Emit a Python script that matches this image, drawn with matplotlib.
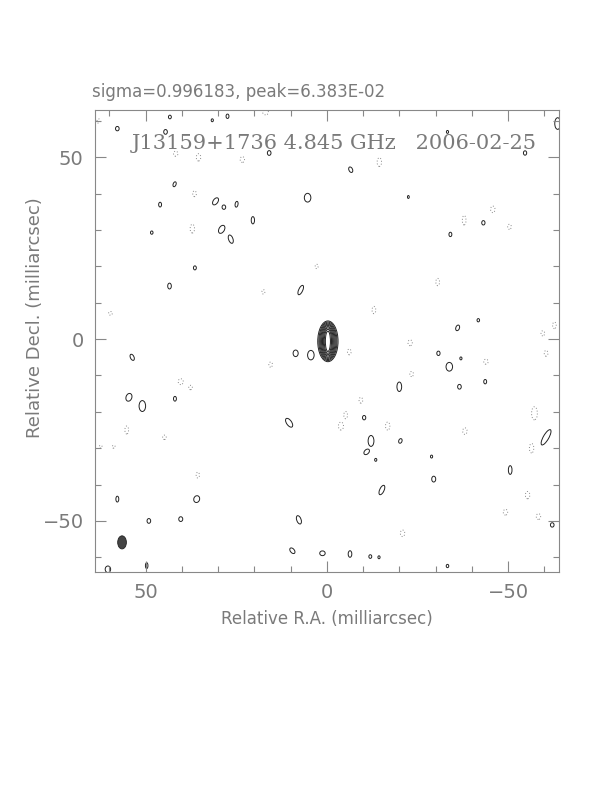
import matplotlib
matplotlib.use("Agg")
import matplotlib.pyplot as plt
from matplotlib.patches import Ellipse
from matplotlib.ticker import MultipleLocator

# header text
sigma_txt = "sigma=0.996183, peak=6.383E-02"
map_label = "J13159+1736 4.845 GHz   2006-02-25"

# main component: nested contours (ra, dec centre; full widths in mas)
core_ra, core_dec = -0.3, -0.6
core_w = [5.6, 5.0, 4.5, 4.0, 3.5, 3.0, 2.5, 2.0, 1.4]
core_h = [11.2, 10.6, 10.0, 9.4, 8.8, 8.1, 7.4, 6.6, 5.6]

# restoring beam
beam_ra, beam_dec, beam_w, beam_h = 56.5, -55.9, 2.4, 3.6

# positive noise contours: ra, dec, width, height, tilt
pos_ra = [57.8, 43.3, 31.6, 27.4, 44.5, 15.9, 42.0, 46.0, 30.7, 28.4, 24.9, 5.3,
          20.4, 29.0, 26.5, 48.3, 36.4, 43.4, 7.2, -6.6, -22.5, -43.2, -34.1,
          -54.7, -63.7, -33.3, 8.6, 4.4, 53.7, 54.6, 50.9, 41.9, 10.4, 57.8,
          35.9, 7.7, 49.1, 40.3, 9.5, 1.2, 49.7, 60.4, -36.1, -41.8, -30.8,
          -37.0, -33.8, -36.6, -43.7, -20.0, -10.3, -12.2, -11.0, -13.5, -20.3,
          -28.9, -60.5, -50.6, -29.5, -15.2, -62.2, -6.4, -12.0, -14.4, -33.3]
pos_dec = [57.9, 61.1, 60.2, 61.3, 57.0, 51.2, 42.6, 37.0, 37.9, 36.3, 37.1, 38.9,
           32.7, 30.2, 27.5, 29.3, 19.6, 14.6, 13.5, 46.6, 39.1, 32.0, 28.8,
           51.2, 59.3, 57.0, -3.9, -4.4, -5.0, -16.0, -18.4, -16.4, -23.0, -44.0,
           -44.0, -49.7, -50.0, -49.5, -58.2, -58.9, -62.3, -63.3, 3.1, 5.2, -3.9,
           -5.3, -7.6, -13.1, -11.7, -13.1, -21.6, -28.0, -31.0, -33.2, -28.0,
           -32.3, -27.0, -36.0, -38.5, -41.5, -51.1, -59.1, -59.8, -60.0, -62.4]
pos_w = [1.0, 0.8, 0.6, 0.8, 1.0, 1.0, 0.8, 0.8, 1.3, 1.0, 0.8, 1.8,
         0.9, 1.5, 1.2, 0.7, 0.8, 1.0, 1.1, 1.0, 0.5, 0.9, 0.8,
         0.9, 1.6, 0.6, 1.4, 1.8, 1.0, 1.6, 1.8, 0.8, 1.4, 0.8,
         1.6, 1.2, 1.0, 1.1, 1.1, 1.5, 0.7, 1.5, 1.0, 0.7, 0.9,
         0.6, 1.8, 1.0, 0.8, 1.3, 0.9, 1.6, 1.2, 0.6, 0.9,
         0.6, 1.5, 1.0, 1.1, 1.2, 1.0, 1.0, 0.8, 0.6, 0.7]
pos_h = [1.2, 1.0, 0.8, 1.2, 1.3, 1.3, 1.4, 1.3, 2.2, 1.2, 1.6, 2.4,
         2.0, 2.4, 2.4, 0.9, 1.1, 1.6, 2.8, 1.6, 0.8, 1.2, 1.2,
         1.2, 3.2, 0.8, 1.8, 2.6, 1.8, 2.2, 3.0, 1.3, 2.8, 1.6,
         1.9, 2.4, 1.3, 1.3, 1.8, 1.3, 1.6, 1.8, 1.6, 0.9, 1.2,
         0.8, 2.4, 1.3, 1.2, 2.6, 1.2, 3.0, 1.8, 0.8, 1.3,
         0.8, 4.8, 2.4, 1.6, 2.8, 1.2, 1.8, 1.0, 0.8, 0.9]
pos_tilt = [0, 0, 0, 0, 0, 0, 20, 0, 35, 0, 10, 0,
            0, 30, -20, 0, 0, 0, 25, -25, 0, 0, 0,
            0, 0, 0, 0, 0, -25, 20, 0, 0, -35, 0,
            20, -20, 0, 0, -40, 0, 0, 0, 20, 0, 0,
            0, 0, 0, 0, 0, 0, 0, 45, 0, 20,
            0, 30, 0, 0, 25, 0, 0, 0, 0, 0]

# negative noise contours (dotted): ra, dec, width, height
neg_ra = [36.5, 37.1, 23.3, 35.4, 41.7, 16.9, 2.8, 17.5, -14.5, -45.8, -37.9,
          -50.4, -30.6, 15.5, 40.3, 37.6, 55.2, 62.4, 58.8, 59.7, 35.6, -13.0,
          -62.8, -59.6, -6.2, -23.0, -43.9, -60.5, -23.4, -9.4, -5.2, -3.9,
          -16.8, -38.1, -57.3, -56.5, -55.4, -49.3, -58.4, -20.9, 63.0, 44.8]
neg_dec = [40.0, 30.4, 49.4, 50.0, 51.0, 62.4, 20.0, 13.0, 48.7, 35.7, 32.7,
           30.9, 15.7, -7.0, -11.7, -13.3, -25.0, -29.6, -29.6, 7.1, -37.4, 8.0,
           3.8, 1.6, -3.5, -1.0, -6.2, -3.9, -9.6, -16.8, -20.9, -23.9,
           -23.9, -25.3, -20.4, -30.0, -42.9, -47.6, -48.8, -53.4, 60.0, -27.0]
neg_w = [1.0, 1.2, 1.2, 1.2, 1.2, 1.6, 0.8, 0.8, 1.2, 1.2, 1.0,
         1.0, 1.0, 1.0, 1.4, 1.0, 1.0, 0.8, 0.8, 1.0, 0.9, 1.0,
         1.0, 1.0, 1.0, 1.2, 1.2, 1.0, 1.0, 1.0, 1.0, 1.4,
         1.2, 1.2, 1.6, 1.2, 1.2, 1.2, 1.2, 1.2, 0.8, 1.0]
neg_h = [1.6, 2.4, 1.6, 2.0, 1.4, 1.4, 1.2, 1.2, 2.4, 1.8, 2.6,
         1.4, 2.0, 1.4, 1.6, 1.2, 2.2, 0.8, 0.8, 1.0, 1.6, 2.0,
         1.8, 1.4, 1.6, 1.6, 1.4, 1.6, 1.4, 1.6, 2.0, 2.2,
         2.2, 1.8, 3.6, 2.6, 2.0, 1.6, 1.6, 1.8, 1.2, 1.2]

fig = plt.figure(figsize=(6.12, 7.92), dpi=100)
ax = fig.add_axes([0.155, 0.278, 0.758, 0.583])

for w, h in zip(core_w, core_h):
    ax.add_patch(Ellipse((core_ra, core_dec), w, h, fill=False,
                         ec="#222222", lw=0.7))

for x, y, w, h, t in zip(pos_ra, pos_dec, pos_w, pos_h, pos_tilt):
    ax.add_patch(Ellipse((x, y), w, h, angle=t, fill=False, ec="#222222", lw=0.7))

for x, y, w, h in zip(neg_ra, neg_dec, neg_w, neg_h):
    ax.add_patch(Ellipse((x, y), w, h, fill=False, ec="#888888", lw=0.7,
                         ls=(0, (1, 2))))

ax.add_patch(Ellipse((beam_ra, beam_dec), beam_w, beam_h, fc="#444444",
                     ec="#222222", lw=0.6))

ax.set_xlim(64, -64)
ax.set_ylim(-64, 63)

grey = "#7a7a7a"
for s in ax.spines.values():
    s.set_color("#888888")
    s.set_linewidth(0.8)
ax.xaxis.set_major_locator(MultipleLocator(50))
ax.xaxis.set_minor_locator(MultipleLocator(10))
ax.yaxis.set_major_locator(MultipleLocator(50))
ax.yaxis.set_minor_locator(MultipleLocator(10))
ax.tick_params(which="both", direction="in", top=True, right=True,
               color="#888888", width=0.8, labelcolor=grey, labelsize=14)
ax.tick_params(which="major", length=8, pad=8)
ax.tick_params(which="minor", length=4)
fmt = plt.FuncFormatter(lambda v, p: f"{v:.0f}".replace("-", "\u2212"))
ax.xaxis.set_major_formatter(fmt)
ax.yaxis.set_major_formatter(fmt)

ax.set_xlabel("Relative R.A. (milliarcsec)", fontsize=12, color=grey, labelpad=6)
ax.set_ylabel("Relative Decl. (milliarcsec)", fontsize=13, color=grey)
ax.yaxis.set_label_coords(-0.11, 0.55)

ax.text(-0.006, 1.04, sigma_txt, transform=ax.transAxes, fontsize=12,
        color=grey, ha="left", va="center")
ax.text(0.515, 0.928, map_label, transform=ax.transAxes, fontsize=15,
        family="DejaVu Serif", color=grey, ha="center", va="center")

fig.savefig("out.png", dpi=100)
